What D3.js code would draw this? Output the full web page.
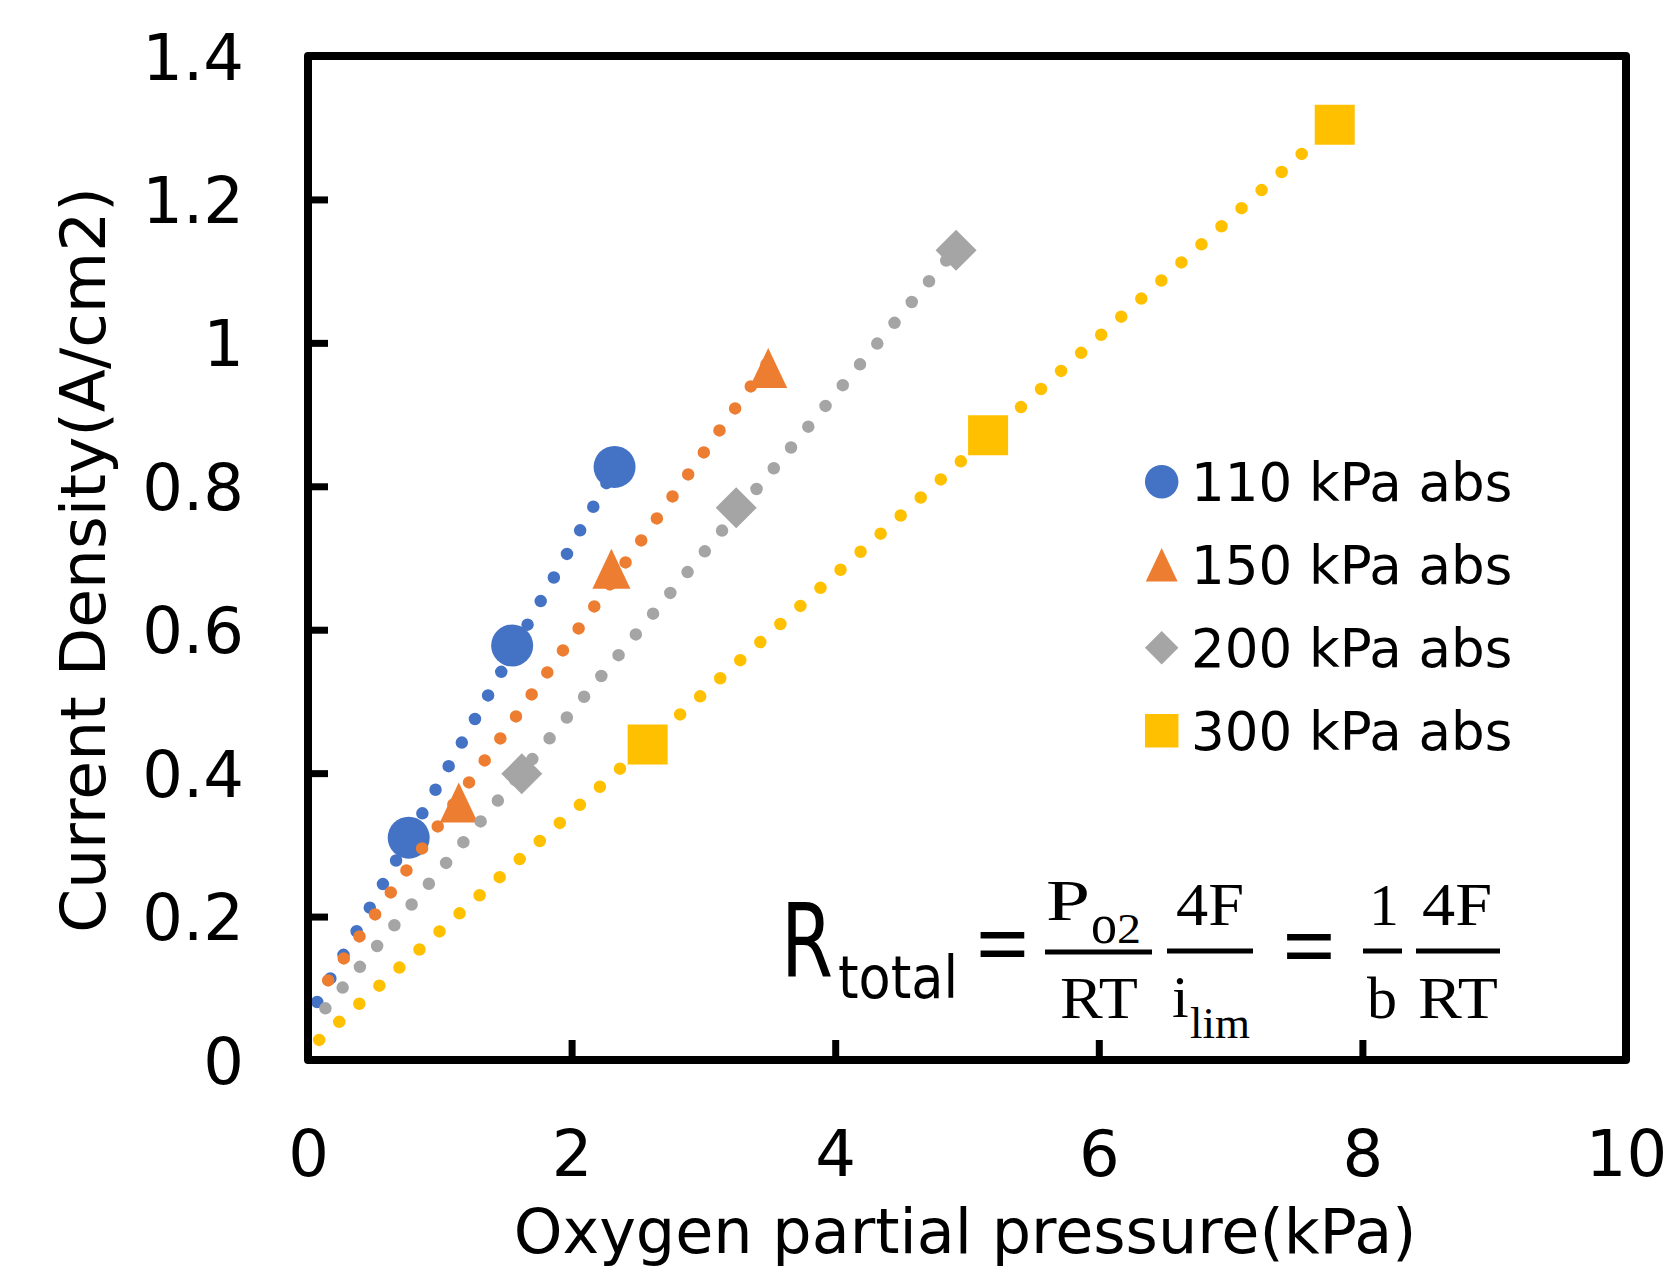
<!DOCTYPE html>
<html><head><meta charset="utf-8">
<script src="https://cdn.jsdelivr.net/npm/d3@7"></script>
<style>body{margin:0;background:#fff} svg{display:block}</style>
</head><body>
<script>
// ---- data ----
const seriesNames  = ["110 kPa abs", "150 kPa abs", "200 kPa abs", "300 kPa abs"];
const seriesColors = ["#4472C4", "#ED7D31", "#A5A5A5", "#FFC000"];
const seriesShapes = ["circle", "triangle", "diamond", "square"];

const x110 = [0.764, 1.549, 2.326];
const y110 = [0.310, 0.578, 0.827];
const x150 = [1.144, 2.302, 3.492];
const y150 = [0.359, 0.685, 0.965];
const x200 = [1.622, 3.249, 4.917];
const y200 = [0.399, 0.770, 1.129];
const x300 = [2.577, 5.160, 7.790];
const y300 = [0.440, 0.871, 1.304];

// dotted linear trendlines: [start, end] points
const trend110 = [[-0.03, 0.048], [2.33, 0.826]];
const trend150 = [[0.153, 0.111], [3.49, 0.973]];
const trend200 = [[0.132, 0.072], [4.92, 1.132]];
const trend300 = [[0.085, 0.028], [7.79, 1.305]];

const xTickValues = [0, 2, 4, 6, 8, 10];
const yTickValues = [0, 0.2, 0.4, 0.6, 0.8, 1.0, 1.2, 1.4];
const yTickLabels = ["0", "0.2", "0.4", "0.6", "0.8", "1", "1.2", "1.4"];

const xTitle = "Oxygen partial pressure(kPa)";
const yTitle = "Current Density(A/cm2)";

// ---- layout ----
const W = 1673, H = 1267;
const L = 308, R = 1626, T = 56, B = 1060;
const sans = "'DejaVu Sans', Verdana, sans-serif";
const serif = "'Liberation Serif', 'DejaVu Serif', serif";

const svg = d3.select("body").append("svg").attr("width", W).attr("height", H);

const x = d3.scaleLinear().domain([0, 10]).range([L, R]);
const y = d3.scaleLinear().domain([0, 1.4]).range([B, T]);

svg.append("defs").append("clipPath").attr("id", "plot")
  .append("rect").attr("x", L).attr("y", T).attr("width", R - L).attr("height", B - T);

const series = [
  {xs: x110, ys: y110, tr: trend110},
  {xs: x150, ys: y150, tr: trend150},
  {xs: x200, ys: y200, tr: trend200},
  {xs: x300, ys: y300, tr: trend300}
].map((s, i) => ({...s, name: seriesNames[i], color: seriesColors[i], shape: seriesShapes[i]}));

function markerPath(shape, s) {
  if (shape === "circle") return d3.symbol(d3.symbolCircle, Math.PI * (s / 2) * (s / 2))();
  if (shape === "triangle") { const w = s * 0.95, h = s; return `M0,${-h/2}L${w/2},${h/2}L${-w/2},${h/2}Z`; }
  if (shape === "diamond") return `M0,${-s/2}L${s/2},0L0,${s/2}L${-s/2},0Z`;
  return `M${-s/2},${-s/2}H${s/2}V${s/2}H${-s/2}Z`;
}
const dataSize = {circle: 42, triangle: 40, diamond: 41, square: 40};

// axes (ticks inside)
const gx = svg.append("g").attr("transform", `translate(0,${B})`)
  .call(d3.axisBottom(x).tickValues(xTickValues).tickSize(-20).tickFormat(d3.format("d")));
gx.select(".domain").remove();
gx.selectAll(".tick line").attr("stroke", "#000").attr("stroke-width", 7);
gx.selectAll(".tick text").attr("y", 116).attr("dy", 0)
  .style("font-family", sans).style("font-size", "64px").attr("fill", "#000");

const gy = svg.append("g").attr("transform", `translate(${L},0)`)
  .call(d3.axisLeft(y).tickValues(yTickValues).tickSize(-20)
    .tickFormat((d, i) => yTickLabels[i]));
gy.select(".domain").remove();
gy.selectAll(".tick line").attr("stroke", "#000").attr("stroke-width", 7);
gy.selectAll(".tick text").attr("x", -64).attr("dy", "0.36em").attr("text-anchor", "end")
  .style("font-family", sans).style("font-size", "64px").attr("fill", "#000");

// markers
const gm = svg.append("g");
series.forEach(s => {
  gm.selectAll(null).data(s.xs.map((v, k) => [v, s.ys[k]])).enter().append("path")
    .attr("d", markerPath(s.shape, dataSize[s.shape]))
    .attr("transform", d => `translate(${x(d[0])},${y(d[1])})`)
    .attr("fill", s.color);
});

// trendlines (round dots)
const line = d3.line().x(d => x(d[0])).y(d => y(d[1]));
const gt = svg.append("g").attr("clip-path", "url(#plot)");
series.forEach(s => {
  gt.append("path").attr("d", line(s.tr)).attr("fill", "none")
    .attr("stroke", s.color).attr("stroke-width", 12.5)
    .attr("stroke-linecap", "round").attr("stroke-dasharray", "0 27");
});

// frame
svg.append("rect").attr("x", L).attr("y", T).attr("width", R - L).attr("height", B - T)
  .attr("fill", "none").attr("stroke", "#000").attr("stroke-width", 8).attr("stroke-linejoin", "round");

// axis titles
svg.append("text").attr("x", 965).attr("y", 1253).attr("text-anchor", "middle")
  .style("font-family", sans).style("font-size", "62px").text(xTitle);
svg.append("text").attr("transform", "translate(105,560) rotate(-90)").attr("text-anchor", "middle")
  .style("font-family", sans).style("font-size", "63px").text(yTitle);

// legend
const lg = svg.append("g");
series.forEach((s, i) => {
  const cy = 481.7 + i * 83;
  lg.append("path").attr("d", markerPath(s.shape, 33.5)).attr("transform", `translate(1161.7,${cy})`).attr("fill", s.color);
  lg.append("text").attr("x", 1191).attr("y", cy + 19).style("font-family", sans).style("font-size", "53px")
    .attr("fill", "#000").text(s.name);
});

// equation annotation
const eq = svg.append("g").attr("fill", "#000");
function t(txt, xx, yy, size, fam, opts = {}) {
  const e = eq.append("text").attr("x", xx).attr("y", yy).style("font-family", fam)
    .style("font-size", size + "px").text(txt);
  if (opts.anchor) e.attr("text-anchor", opts.anchor);
  if (opts.len) e.attr("textLength", opts.len).attr("lengthAdjust", "spacingAndGlyphs");
  if (opts.bold) e.attr("stroke", "#000").attr("stroke-width", opts.bold);
  return e;
}
function bar(x1, x2, yy) {
  eq.append("line").attr("x1", x1).attr("x2", x2).attr("y1", yy).attr("y2", yy)
    .attr("stroke", "#000").attr("stroke-width", 5);
}
t("R", 781, 976, 101, sans, {len: 52});
t("total", 838, 998, 58, sans, {len: 120});
t("=", 1002.5, 975, 90, serif, {anchor: "middle", bold: 1.8});
bar(1045, 1152, 952);
t("P", 1046, 920, 58, serif, {len: 44});
t("o", 1091, 943, 56, serif, {len: 26});
t("2", 1117, 943, 42, serif, {len: 24});
t("RT", 1060, 1018, 60, serif, {len: 78});
bar(1167, 1253, 951);
t("4F", 1176, 925, 62, serif, {len: 68});
t("i", 1172, 1017, 60, serif);
t("lim", 1190, 1038, 44, serif, {len: 60});
t("=", 1309, 977, 90, serif, {anchor: "middle", bold: 1.8});
bar(1363, 1402, 951);
t("1", 1384, 925, 60, serif, {anchor: "middle"});
t("b", 1382, 1018, 60, serif, {anchor: "middle"});
bar(1416, 1500, 951);
t("4F", 1457, 925, 62, serif, {anchor: "middle", len: 70});
t("RT", 1458, 1018, 60, serif, {anchor: "middle", len: 80});
</script>
</body></html>
